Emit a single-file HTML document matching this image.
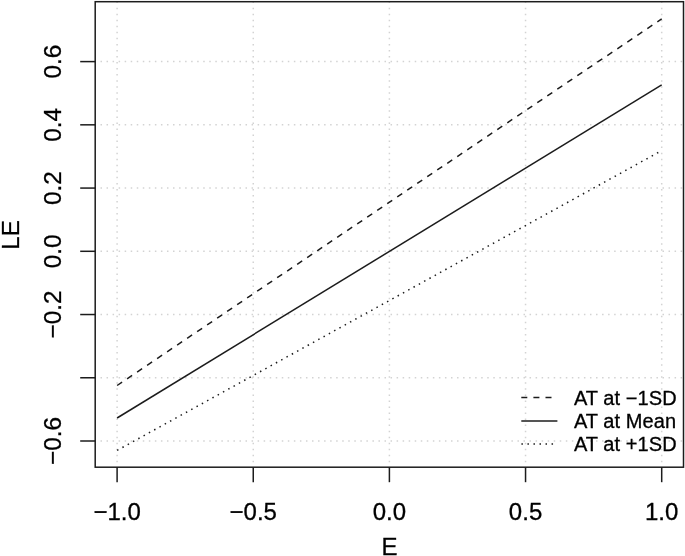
<!DOCTYPE html>
<html><head><meta charset="utf-8"><title>Plot</title>
<style>
html,body{margin:0;padding:0;background:#fff;}
svg{display:block;}
text{font-family:"Liberation Sans",Arial,Helvetica,sans-serif;fill:#000;stroke:#000;stroke-width:0.3px;}
</style></head><body>
<svg width="685" height="556" viewBox="0 0 685 556">
<rect width="685" height="556" fill="#fff"/>
<g stroke="#d3d3d3" stroke-width="1.5" stroke-dasharray="1.5 4.543" fill="none">
<line x1="117.1" y1="468.4" x2="117.1" y2="1.7"/>
<line x1="253.25" y1="468.4" x2="253.25" y2="1.7"/>
<line x1="389.4" y1="468.4" x2="389.4" y2="1.7"/>
<line x1="525.55" y1="468.4" x2="525.55" y2="1.7"/>
<line x1="661.7" y1="468.4" x2="661.7" y2="1.7"/>
<line x1="94.45" y1="61.60" x2="683.5" y2="61.60"/>
<line x1="94.45" y1="124.83" x2="683.5" y2="124.83"/>
<line x1="94.45" y1="188.07" x2="683.5" y2="188.07"/>
<line x1="94.45" y1="251.30" x2="683.5" y2="251.30"/>
<line x1="94.45" y1="314.53" x2="683.5" y2="314.53"/>
<line x1="94.45" y1="377.77" x2="683.5" y2="377.77"/>
<line x1="94.45" y1="441.00" x2="683.5" y2="441.00"/>
</g>
<g stroke="#1c1c1c" stroke-width="1.5" fill="none">
<line x1="117.1" y1="385.5" x2="661.7" y2="18.9" stroke-dasharray="6.03 6.03"/>
<line x1="117.1" y1="418.0" x2="661.7" y2="84.8"/>
<line x1="117.1" y1="450.4" x2="661.7" y2="150.6" stroke-dasharray="1.5 4.542"/>
</g>
<rect x="95.2" y="1.7" width="588.3" height="465.5" fill="none" stroke="#1c1c1c" stroke-width="1.5"/>
<g stroke="#1c1c1c" stroke-width="1.5" fill="none">
<line x1="117.1" y1="467.2" x2="117.1" y2="482.2"/>
<line x1="253.25" y1="467.2" x2="253.25" y2="482.2"/>
<line x1="389.4" y1="467.2" x2="389.4" y2="482.2"/>
<line x1="525.55" y1="467.2" x2="525.55" y2="482.2"/>
<line x1="661.7" y1="467.2" x2="661.7" y2="482.2"/>
<line x1="95.2" y1="61.60" x2="80.2" y2="61.60"/>
<line x1="95.2" y1="124.83" x2="80.2" y2="124.83"/>
<line x1="95.2" y1="188.07" x2="80.2" y2="188.07"/>
<line x1="95.2" y1="251.30" x2="80.2" y2="251.30"/>
<line x1="95.2" y1="314.53" x2="80.2" y2="314.53"/>
<line x1="95.2" y1="377.77" x2="80.2" y2="377.77"/>
<line x1="95.2" y1="441.00" x2="80.2" y2="441.00"/>
</g>
<g font-size="24" text-anchor="middle">
<text x="117.1" y="520.3">−1.0</text>
<text x="253.25" y="520.3">−0.5</text>
<text x="389.4" y="520.3">0.0</text>
<text x="525.55" y="520.3">0.5</text>
<text x="661.7" y="520.3">1.0</text>
<text font-size="24.4" transform="translate(61,61.60) rotate(-90)">0.6</text>
<text font-size="24.4" transform="translate(61,124.83) rotate(-90)">0.4</text>
<text font-size="24.4" transform="translate(61,188.07) rotate(-90)">0.2</text>
<text font-size="24.4" transform="translate(61,251.30) rotate(-90)">0.0</text>
<text font-size="24.4" transform="translate(61,314.53) rotate(-90)">−0.2</text>
<text font-size="24.4" transform="translate(61,441.00) rotate(-90)">−0.6</text>
<text x="389.6" y="555.2">E</text>
<text transform="translate(18.5,235.0) rotate(-90)">LE</text>
</g>
<g stroke="#1c1c1c" stroke-width="1.5" fill="none">
<line x1="521.3" y1="397.5" x2="557.4" y2="397.5" stroke-dasharray="6 6.1"/>
<line x1="521.3" y1="420.9" x2="557.4" y2="420.9"/>
<line x1="521.4" y1="444.1" x2="557.4" y2="444.1" stroke-dasharray="1.5 4.53"/>
</g>
<g font-size="20" letter-spacing="0.07">
<text x="573.9" y="405.0">AT at −1SD</text>
<text x="573.9" y="428.4">AT at Mean</text>
<text x="573.9" y="451.2">AT at +1SD</text>
</g>
</svg></body></html>
